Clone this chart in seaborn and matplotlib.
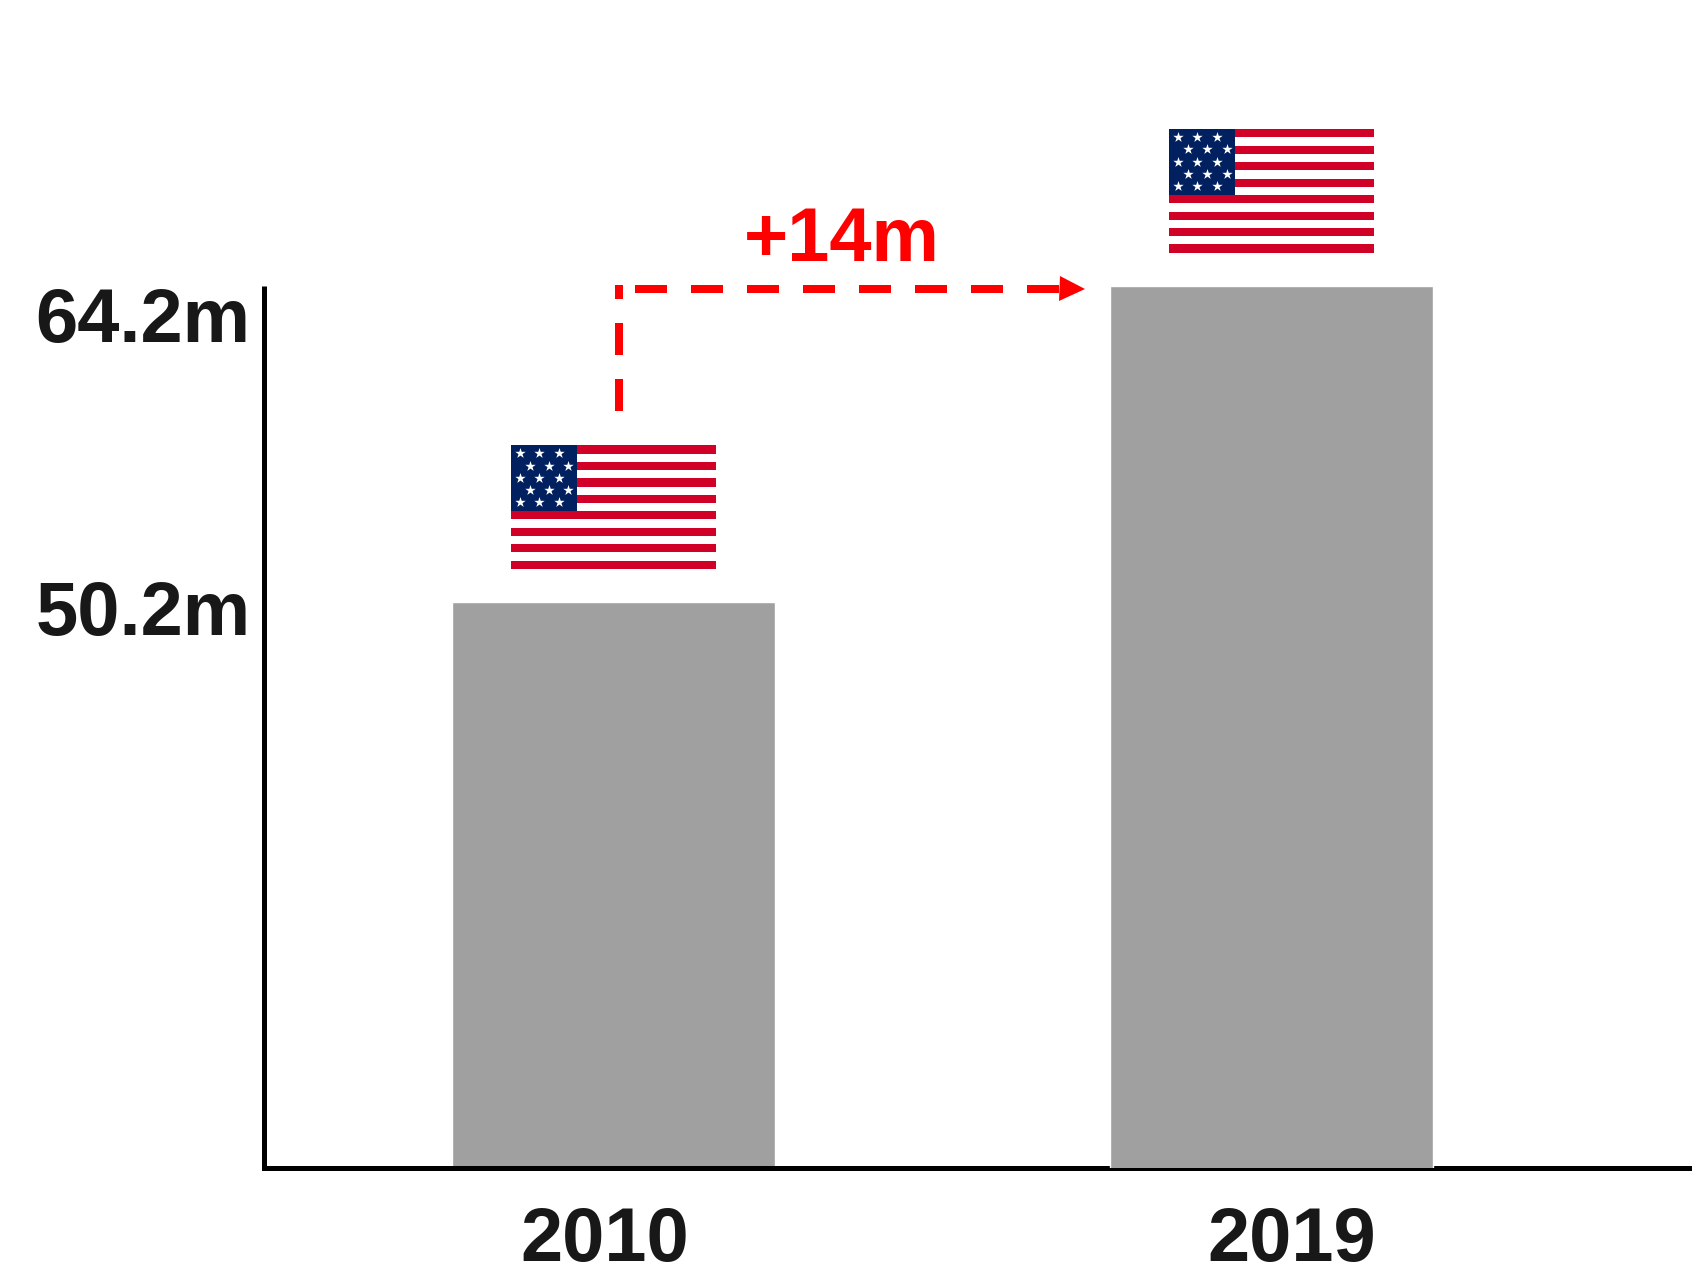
import matplotlib
matplotlib.use("Agg")
import matplotlib.pyplot as plt
from matplotlib.patches import Rectangle
from matplotlib.transforms import ScaledTranslation
import seaborn as sns

# Population figures, in millions
years = ["2010", "2019"]
values = [50.2, 64.2]
value_labels = ["50.2m", "64.2m"]
change_label = "+14m"

# Flag layout: 15 stripes and 15 stars, positions as fractions of the flag
stripe_count = 15
star_x = [0.042, 0.137, 0.232, 0.090, 0.185, 0.280, 0.042, 0.137, 0.232,
          0.090, 0.185, 0.280, 0.042, 0.137, 0.232]
star_y = [0.935, 0.935, 0.935, 0.836, 0.836, 0.836, 0.737, 0.737, 0.737,
          0.637, 0.637, 0.637, 0.538, 0.538, 0.538]

BAR_GREY = "#a0a0a0"
INK = "#181818"
RED = "#ff0000"
FLAG_RED = "#d00026"
FLAG_BLUE = "#002060"

W, H = 1692, 1274
DPI = 100

sns.set_theme(style="white")
plt.rcParams["font.family"] = ["Liberation Sans", "DejaVu Sans"]
plt.rcParams["font.weight"] = "bold"

fig = plt.figure(figsize=(W / DPI, H / DPI), dpi=DPI, facecolor="white")
ax = fig.add_axes([263.5 / W, 1 - 1167.6 / H, (W - 263.5) / W, (1167.6 - 286.2) / H])

sns.barplot(x=years, y=values, color=BAR_GREY, saturation=1, width=0.491, ax=ax)

# The value axis is truncated below the smaller bar
ax.set_xlim(-0.5320, 1.6387)
ax.set_ylim(25.17, 64.2)

for side in ("top", "right"):
    ax.spines[side].set_visible(False)
for side in ("left", "bottom"):
    ax.spines[side].set_color("black")
    ax.spines[side].set_linewidth(3.6)
    ax.spines[side].set_zorder(5)
ax.spines["left"].set_capstyle("butt")
ax.spines["bottom"].set_capstyle("projecting")

# The 2019 bar runs over the upper half of the baseline
ax.patches[1].set_zorder(6)

ax.set_xlabel("")
ax.set_ylabel("")
ax.tick_params(length=0)
ax.set_yticks([])
ax.set_xticks(range(len(years)))
ax.set_xticklabels(years, fontsize=54.6, color=INK, fontweight="bold")
ax.tick_params(axis="x", pad=27.6)

# Year labels sit slightly off the bar centres
for label, shift in zip(ax.get_xticklabels(), (-9, 20.5)):
    label.set_transform(label.get_transform() + ScaledTranslation(shift / DPI, 0, fig.dpi_scale_trans))

# Value labels to the left of the axis
for text, baseline in zip(value_labels, (635, 342)):
    fig.text(250.5 / W, 1 - baseline / H, text, ha="right", va="baseline",
             fontsize=54.6, color=INK, fontweight="bold")

px_x = 1 / 658      # axis units per pixel, horizontal
px_y = 1 / 22.58    # axis units per pixel, vertical


def draw_flag(center, value):
    width = 205 * px_x
    height = 123.5 * px_y
    bottom = value + 33.5 * px_y
    flag = ax.inset_axes([center - width / 2, bottom, width, height], transform=ax.transData, zorder=3)
    flag.set_xlim(0, 1)
    flag.set_ylim(0, stripe_count)
    flag.axis("off")
    for i in range(stripe_count):
        flag.add_patch(Rectangle((0, i), 1, 1, linewidth=0,
                                 facecolor=FLAG_RED if i % 2 == 0 else "white"))
    flag.add_patch(Rectangle((0, 7), 0.322, 8, linewidth=0, facecolor=FLAG_BLUE, zorder=2))
    flag.scatter(star_x, [v * stripe_count for v in star_y], marker="*", s=62,
                 color="white", linewidths=0, zorder=3)


for i, value in enumerate(values):
    draw_flag(i, value)

# Dashed connector from the 2010 flag to the 2019 bar
line_style = dict(color=RED, linewidth=5.76, linestyle=(0, (4, 3)),
                  dash_capstyle="butt", clip_on=False, zorder=4)
run_x = 5 * px_x
level = values[1] - 2.5 * px_y
ax.plot([run_x, run_x], [values[0] + 191.2 * px_y, values[1] + 1.2 * px_y], **line_style)
ax.plot([21 * px_x, 445 * px_x], [level, level], **line_style)
ax.plot([445 * px_x + 13 * px_x], [level], marker=">", markersize=18, color=RED,
        markeredgewidth=0, linestyle="none", clip_on=False, zorder=4)

ax.text(228 * px_x, values[1] + 25.5 * px_y, change_label, ha="center", va="baseline",
        fontsize=54.6, color=RED, fontweight="bold")

fig.savefig("out.png", dpi=DPI, facecolor="white")
